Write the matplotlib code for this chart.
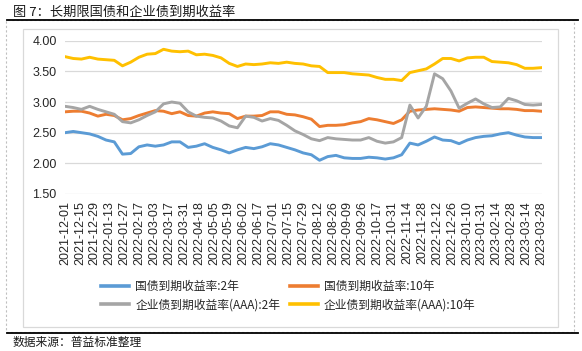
import matplotlib
matplotlib.use("Agg")
import matplotlib.pyplot as plt
from matplotlib.lines import Line2D
from matplotlib.patches import Rectangle
import numpy as np

plt.rcParams['font.family'] = ['Noto Sans CJK SC', 'DejaVu Sans']

# ---- data ----
tick_labels = ["2021-12-01", "2021-12-15", "2021-12-29", "2022-01-13", "2022-01-27",
               "2022-02-17", "2022-03-03", "2022-03-17", "2022-03-31", "2022-04-18",
               "2022-05-05", "2022-05-19", "2022-06-02", "2022-06-17", "2022-07-01",
               "2022-07-15", "2022-07-29", "2022-08-12", "2022-08-26", "2022-09-09",
               "2022-09-26", "2022-10-17", "2022-10-31", "2022-11-14", "2022-11-28",
               "2022-12-12", "2022-12-26", "2023-01-10", "2023-01-31", "2023-02-14",
               "2023-02-28", "2023-03-14", "2023-03-28"]
days_per_tick = 10
n_days = days_per_tick * (len(tick_labels) - 1)   # trading days spanned

gov_2y = [2.50, 2.52, 2.50, 2.48, 2.44, 2.38, 2.35, 2.15, 2.16, 2.27,
          2.30, 2.28, 2.30, 2.35, 2.35, 2.26, 2.28, 2.32, 2.26, 2.22,
          2.17, 2.22, 2.26, 2.24, 2.27, 2.32,
          2.30, 2.26, 2.22, 2.17, 2.14, 2.05, 2.11, 2.13, 2.09, 2.08,
          2.08, 2.10, 2.09, 2.07, 2.09, 2.14, 2.33, 2.30, 2.36, 2.43,
          2.38, 2.37, 2.32, 2.38, 2.42, 2.44, 2.45, 2.48, 2.50, 2.46,
          2.43, 2.42, 2.42]
gov_10y = [2.84, 2.85, 2.85, 2.82, 2.77, 2.80, 2.78, 2.71, 2.73, 2.78,
           2.82, 2.86, 2.85, 2.81, 2.84, 2.78, 2.77, 2.82, 2.84, 2.82,
           2.81, 2.73, 2.77, 2.77, 2.78, 2.84,
           2.84, 2.80, 2.79, 2.76, 2.72, 2.60, 2.62, 2.62, 2.63, 2.66,
           2.68, 2.73, 2.71, 2.68, 2.65, 2.71, 2.85, 2.87, 2.88, 2.89,
           2.88, 2.87, 2.85, 2.91, 2.92, 2.91, 2.90, 2.89, 2.89, 2.88,
           2.86, 2.86, 2.85]
corp_2y = [2.93, 2.91, 2.88, 2.93, 2.88, 2.84, 2.80, 2.68, 2.66, 2.71,
           2.78, 2.84, 2.97, 3.00, 2.98, 2.84, 2.77, 2.75, 2.74, 2.69,
           2.61, 2.58, 2.77, 2.75, 2.69, 2.73,
           2.70, 2.62, 2.53, 2.47, 2.40, 2.37, 2.42, 2.40, 2.39, 2.38,
           2.38, 2.42, 2.36, 2.33, 2.35, 2.42, 2.95, 2.74, 2.93, 3.46,
           3.38, 3.18, 2.90, 2.98, 3.05, 2.97, 2.91, 2.92, 3.06, 3.02,
           2.96, 2.95, 2.96]
corp_10y = [3.74, 3.71, 3.70, 3.73, 3.70, 3.69, 3.68, 3.59, 3.65, 3.73,
            3.78, 3.79, 3.86, 3.83, 3.82, 3.83, 3.77, 3.78, 3.76, 3.72,
            3.63, 3.58, 3.62, 3.61, 3.62, 3.64,
            3.63, 3.65, 3.63, 3.62, 3.59, 3.58, 3.48, 3.48, 3.48, 3.46,
            3.45, 3.44, 3.40, 3.37, 3.37, 3.35, 3.48, 3.51, 3.54, 3.62,
            3.71, 3.71, 3.67, 3.72, 3.73, 3.73, 3.66, 3.65, 3.64, 3.61,
            3.55, 3.55, 3.56]

series_names = ["国债到期收益率:2年", "国债到期收益率:10年",
                "企业债到期收益率(AAA):2年", "企业债到期收益率(AAA):10年"]
series_colors = ["#5B9BD5", "#ED7D31", "#A5A5A5", "#FFC000"]
series_values = [gov_2y, gov_10y, corp_2y, corp_10y]

# samples are evenly spaced over the trading-day axis
n_samples = len(gov_2y)
day_pos = np.arange(n_samples) * n_days / (n_samples - 1)

W, H = 582, 351
fig = plt.figure(figsize=(W / 100, H / 100), dpi=100)

def fx(px):
    return px / W

def fy(py):
    return 1 - py / H

# decorative frame
fig.add_artist(Rectangle((fx(6), fy(332)), fx(574) - fx(6), fy(20) - fy(332),
                         transform=fig.transFigure, fill=False,
                         edgecolor="#BFBFBF", lw=0.8, linestyle=(0, (2, 2))))
fig.add_artist(Rectangle((fx(23), fy(327)), fx(558) - fx(23), fy(29) - fy(327),
                         transform=fig.transFigure, fill=False,
                         edgecolor="#D9D9D9", lw=0.9))
fig.add_artist(Line2D([fx(7), fx(578)], [fy(20), fy(20)], transform=fig.transFigure,
                      color="black", lw=1.3))
fig.add_artist(Line2D([fx(7), fx(578)], [fy(333), fy(333)], transform=fig.transFigure,
                      color="black", lw=1.3))

fig.text(fx(13), fy(12), "图 7：长期限国债和企业债到期收益率", fontsize=9.5,
         color="#1a1a1a", va="center", ha="left", fontweight="medium")
fig.text(fx(13), fy(342), "数据来源：普益标准整理", fontsize=8.5,
         color="#1a1a1a", va="center", ha="left")

left, right, top, bottom = 65, 542, 40.7, 194
ax = fig.add_axes([fx(left), fy(bottom), fx(right) - fx(left), fy(top) - fy(bottom)])

lines = []
for vals, c, name in zip(series_values, series_colors, series_names):
    ln, = ax.plot(day_pos, vals, color=c, lw=2.1, label=name, solid_joinstyle="round")
    lines.append(ln)

ax.set_xlim(0, n_days + 0.5)
ax.set_ylim(1.5, 4.0)
yt = np.arange(1.5, 4.01, 0.5)
ax.set_yticks(yt)
ax.set_yticklabels([f"{v:.2f}" for v in yt],
                   fontfamily="Liberation Sans", fontsize=9, color="#262626")
ax.set_xticks(np.arange(0, n_days + 1, days_per_tick))
ax.set_xticklabels(tick_labels, rotation=90, fontfamily="Liberation Sans",
                   fontsize=9, color="#262626")
ax.tick_params(length=0, pad=6)
ax.tick_params(axis="x", pad=5)
ax.grid(axis="y", color="#D9D9D9", lw=0.9)
ax.set_axisbelow(True)
for s in ax.spines.values():
    s.set_visible(False)

order = [0, 2, 1, 3]
leg = fig.legend([lines[i] for i in order], [series_names[i] for i in order],
                 loc="upper left", bbox_to_anchor=(fx(101), fy(280)), ncol=2,
                 frameon=False, fontsize=8.5, handlelength=2.4, handletextpad=0.5,
                 columnspacing=0.8, labelspacing=0.45, borderpad=0, borderaxespad=0)
for t in leg.get_texts():
    t.set_color("#262626")
for h in leg.legend_handles:
    h.set_linewidth(2.6)

fig.savefig("out.png", dpi=100)
